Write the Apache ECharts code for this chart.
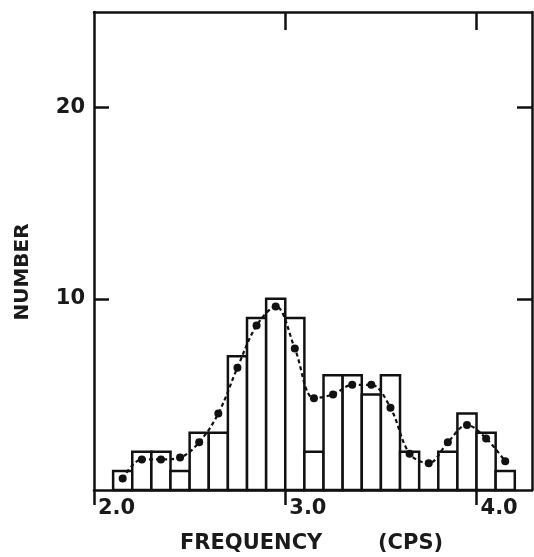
<!DOCTYPE html>
<html>
<head>
<meta charset="utf-8">
<script src="https://cdn.jsdelivr.net/npm/echarts@6/dist/echarts.min.js"></script>
<style>
  html, body { margin: 0; padding: 0; background: #fff; }
  #chart { width: 534px; height: 557px; }
</style>
</head>
<body>
<div id="chart"></div>
<script>
// histogram bins (lower edge, cps) and counts
const binLow = [2.1, 2.2, 2.3, 2.4, 2.5, 2.6, 2.7, 2.8, 2.9, 3.0, 3.1,
  3.2, 3.3, 3.4, 3.5, 3.6, 3.7, 3.8, 3.9, 4.0, 4.1]
const counts = [1, 2, 2, 1, 3, 3, 7, 9, 10, 9, 2,
  6, 6, 5, 6, 2, 0, 2, 4, 3, 1]
const binWidth = 0.1

// smoothed curve, one dot per bin centre
const curveX = [2.15, 2.25, 2.35, 2.45, 2.55, 2.65, 2.75, 2.85, 2.95, 3.05, 3.15,
  3.25, 3.35, 3.45, 3.55, 3.65, 3.75, 3.85, 3.95, 4.05, 4.15]
const curveY = [0.6, 1.6, 1.6, 1.7, 2.5, 4.0, 6.4, 8.6, 9.6, 7.4, 4.8,
  5.0, 5.5, 5.5, 4.3, 1.9, 1.4, 2.5, 3.4, 2.7, 1.5]

const xTicks = [2, 3, 4]
const yTicks = [10, 20]

const ink = '#111'
const font = 'DejaVu Sans'

const chart = echarts.init(document.getElementById('chart'))

const frameLine = { show: true, onZero: false, lineStyle: { color: ink, width: 2.5 } }
const tickStyle = { color: ink, width: 2.5 }

chart.setOption({
  animation: false,
  backgroundColor: '#fff',
  grid: { left: 94, right: 2, top: 12, bottom: 67 },
  xAxis: [{
    type: 'value',
    min: 2,
    max: 4.29,
    interval: 1,
    axisLine: frameLine,
    axisTick: { show: true, inside: false, length: 15, customValues: xTicks, lineStyle: tickStyle },
    splitLine: { show: false },
    axisLabel: {
      customValues: xTicks,
      align: 'left',
      margin: 8,
      padding: [0, 0, 0, 4],
      color: '#1a1a1a',
      fontFamily: font,
      fontWeight: 'bold',
      fontSize: 21,
      formatter: v => v.toFixed(1)
    }
  }, {
    type: 'value',
    position: 'top',
    min: 2,
    max: 4.29,
    interval: 1,
    axisLine: frameLine,
    axisTick: { show: true, inside: true, length: 18, customValues: [3, 4], lineStyle: tickStyle },
    splitLine: { show: false },
    axisLabel: { show: false }
  }],
  yAxis: [{
    type: 'value',
    min: 0,
    max: 25,
    interval: 10,
    axisLine: frameLine,
    axisTick: { show: true, inside: true, length: 15, customValues: yTicks, lineStyle: tickStyle },
    splitLine: { show: false },
    axisLabel: {
      customValues: yTicks,
      margin: 9,
      color: '#1a1a1a',
      fontFamily: font,
      fontWeight: 'bold',
      fontSize: 21
    }
  }, {
    type: 'value',
    position: 'right',
    min: 0,
    max: 25,
    interval: 10,
    axisLine: frameLine,
    axisTick: { show: true, inside: true, length: 15, customValues: yTicks, lineStyle: tickStyle },
    splitLine: { show: false },
    axisLabel: { show: false }
  }],
  graphic: [
    {
      type: 'text', x: 23, y: 272, rotation: Math.PI / 2,
      style: {
        text: 'NUMBER', fill: '#1a1a1a', font: 'bold 20px "DejaVu Sans"',
        textAlign: 'center', textVerticalAlign: 'middle'
      }
    },
    {
      type: 'text', x: 180, y: 544,
      style: {
        text: 'FREQUENCY', fill: '#1a1a1a', font: 'bold 21px "DejaVu Sans"',
        textAlign: 'left', textVerticalAlign: 'middle'
      }
    },
    {
      type: 'text', x: 378, y: 544,
      style: {
        text: '(CPS)', fill: '#1a1a1a', font: 'bold 21px "DejaVu Sans"',
        textAlign: 'left', textVerticalAlign: 'middle'
      }
    }
  ],
  series: [{
    type: 'custom',
    data: binLow.map((x, i) => [x, x + binWidth, counts[i]]),
    renderItem: (params, api) => {
      const top = api.coord([api.value(0), api.value(2)])
      const base = api.coord([api.value(1), 0])
      return {
        type: 'rect',
        shape: { x: top[0], y: top[1], width: base[0] - top[0], height: base[1] - top[1] },
        style: { fill: '#fff', stroke: ink, lineWidth: 2.5 }
      }
    },
    z: 2
  }, {
    type: 'line',
    data: curveX.map((x, i) => [x, curveY[i]]),
    smooth: 0.35,
    symbol: 'circle',
    symbolSize: 8,
    itemStyle: { color: ink },
    lineStyle: { color: ink, width: 2.2, type: [4, 3] },
    z: 3
  }]
})
</script>
</body>
</html>
